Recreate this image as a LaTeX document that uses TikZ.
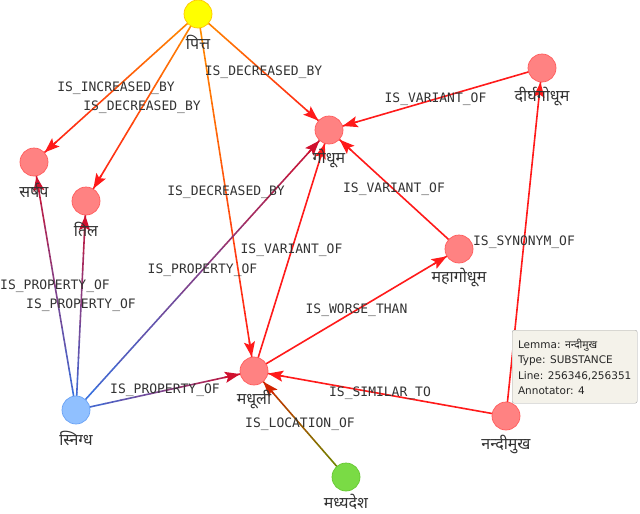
\documentclass[tikz,border=0pt]{standalone}
\usepackage{fontspec}
\usepackage{xcolor}
\newfontfamily\deva[Script=Devanagari]{Noto Sans}
\newfontfamily\relfont{DejaVu Sans Mono}
\newfontfamily\tipfont{DejaVu Sans}
\usetikzlibrary{arrows.meta,calc,backgrounds}

\definecolor{termfill}{HTML}{FF8282}
\definecolor{termdraw}{HTML}{FF5C5C}
\definecolor{pittafill}{HTML}{FFFF00}
\definecolor{pittadraw}{HTML}{FFC400}
\definecolor{snigfill}{HTML}{90C0FF}
\definecolor{snigdraw}{HTML}{6AA2F5}
\definecolor{deshafill}{HTML}{7ADB45}
\definecolor{deshadraw}{HTML}{66C832}
\definecolor{edred}{HTML}{FF1A1A}
\definecolor{edorange}{HTML}{FF8A00}
\definecolor{edblue}{HTML}{3A6FDC}
\definecolor{edcrimson}{HTML}{D0102E}
\definecolor{edolive}{HTML}{6A8C00}
\definecolor{edbrown}{HTML}{D22400}
\definecolor{tipfill}{HTML}{F4F2EA}

\tikzset{
  term/.style={circle, minimum size=28pt, inner sep=0pt, draw=termdraw, fill=termfill, line width=0.7pt},
  lemma/.style={font=\deva\fontsize{16}{18}\selectfont, text=black!80, anchor=center, label distance=14pt},
  rel/.style={font=\relfont\fontsize{13}{15}\selectfont, text=black!80, inner sep=0pt},
  tip/.style={-{Stealth[length=15pt,width=11pt,inset=3pt]}, line width=1.6pt},
}

% from, to, start colour, end colour
\newcommand\graded[4]{%
  \foreach \i in {0,...,11}{
    \pgfmathtruncatemacro\p{100*\i/11}
    \pgfmathsetmacro\ta{\i/12}
    \pgfmathsetmacro\tb{(\i+1)/12}
    \draw[line width=1.6pt, line cap=round, color={#4!\p!#3}]
      ($(#1)!\ta!(#2)$) -- ($(#1)!\tb!(#2)$);
  }
  \draw[tip, color=#4] ($(#2)!30pt!(#1)$) -- (#2);
}

\begin{document}
\begin{tikzpicture}[x=1pt,y=-1pt]
  \useasboundingbox (0,0) rectangle (640,514);

  % terms
  \node[term, fill=pittafill, draw=pittadraw, label={[lemma]below:पित्त}] (pitta) at (198,14) {};
  \node[term, label={[lemma]below:सर्षप}] (sarshapa) at (34,162) {};
  \node[term, label={[lemma]below:तिल}] (tila) at (86,201) {};
  \node[term, label={[lemma]below:गोधूम}] (godhuma) at (329,130) {};
  \node[term, label={[lemma]below:दीर्घगोधूम}] (dirgha) at (542,68) {};
  \node[term, label={[lemma]below:महागोधूम}] (maha) at (459,249) {};
  \node[term, label={[lemma]below:मधूली}] (madhuli) at (254,371) {};
  \node[term, fill=snigfill, draw=snigdraw, label={[lemma]below:स्निग्ध}] (snigdha) at (76,410) {};
  \node[term, label={[lemma]below:नन्दीमुख}] (nandi) at (506,416) {};
  \node[term, fill=deshafill, draw=deshadraw, label={[lemma, label distance=10pt]below:मध्यदेश}] (madhya) at (346,477) {};

  % relations
  \begin{scope}[on background layer]
    \graded{pitta}{sarshapa}{edorange}{edred}
    \graded{pitta}{tila}{edorange}{edred}
    \graded{pitta}{godhuma}{edorange}{edred}
    \graded{pitta}{madhuli}{edorange}{edred}
    \graded{dirgha}{godhuma}{edred}{edred}
    \graded{maha}{godhuma}{edred}{edred}
    \graded{madhuli}{godhuma}{edred}{edred}
    \graded{snigdha}{godhuma}{edblue}{edcrimson}
    \graded{snigdha}{sarshapa}{edblue}{edcrimson}
    \graded{snigdha}{tila}{edblue}{edcrimson}
    \graded{snigdha}{madhuli}{edblue}{edcrimson}
    \graded{madhuli}{maha}{edred}{edred}
    \graded{nandi}{madhuli}{edred}{edred}
    \graded{nandi}{dirgha}{edred}{edred}
    \graded{madhya}{madhuli}{edolive}{edbrown}
  \end{scope}

  \path (pitta) -- (sarshapa) node[rel, midway] {IS\_INCREASED\_BY};
  \path (pitta) -- (tila) node[rel, midway] {IS\_DECREASED\_BY};
  \path (pitta) -- (godhuma) node[rel, midway] {IS\_DECREASED\_BY};
  \path (pitta) -- (madhuli) node[rel, midway] {IS\_DECREASED\_BY};
  \path (dirgha) -- (godhuma) node[rel, midway] {IS\_VARIANT\_OF};
  \path (maha) -- (godhuma) node[rel, midway] {IS\_VARIANT\_OF};
  \path (madhuli) -- (godhuma) node[rel, midway] {IS\_VARIANT\_OF};
  \path (snigdha) -- (godhuma) node[rel, midway] {IS\_PROPERTY\_OF};
  \path (snigdha) -- (sarshapa) node[rel, midway] {IS\_PROPERTY\_OF};
  \path (snigdha) -- (tila) node[rel, midway] {IS\_PROPERTY\_OF};
  \path (snigdha) -- (madhuli) node[rel, midway] {IS\_PROPERTY\_OF};
  \path (madhuli) -- (maha) node[rel, midway] {IS\_WORSE\_THAN};
  \path (nandi) -- (madhuli) node[rel, midway] {IS\_SIMILAR\_TO};
  \path (nandi) -- (dirgha) node[rel, midway] {IS\_SYNONYM\_OF};
  \path (madhya) -- (madhuli) node[rel, midway] {IS\_LOCATION\_OF};

  % tooltip
  \node[draw=black!35, fill=tipfill, rounded corners=2pt, anchor=north west,
        minimum width=125pt, minimum height=73pt, inner sep=4pt, align=left,
        font=\tipfont\fontsize{10.5}{15.5}\selectfont, text=black!85] (info) at (512,330)
    {Lemma: {\deva नन्दीमुख}\\Type: SUBSTANCE\\Line: 256346,256351\\Annotator: 4};
\end{tikzpicture}
\end{document}
